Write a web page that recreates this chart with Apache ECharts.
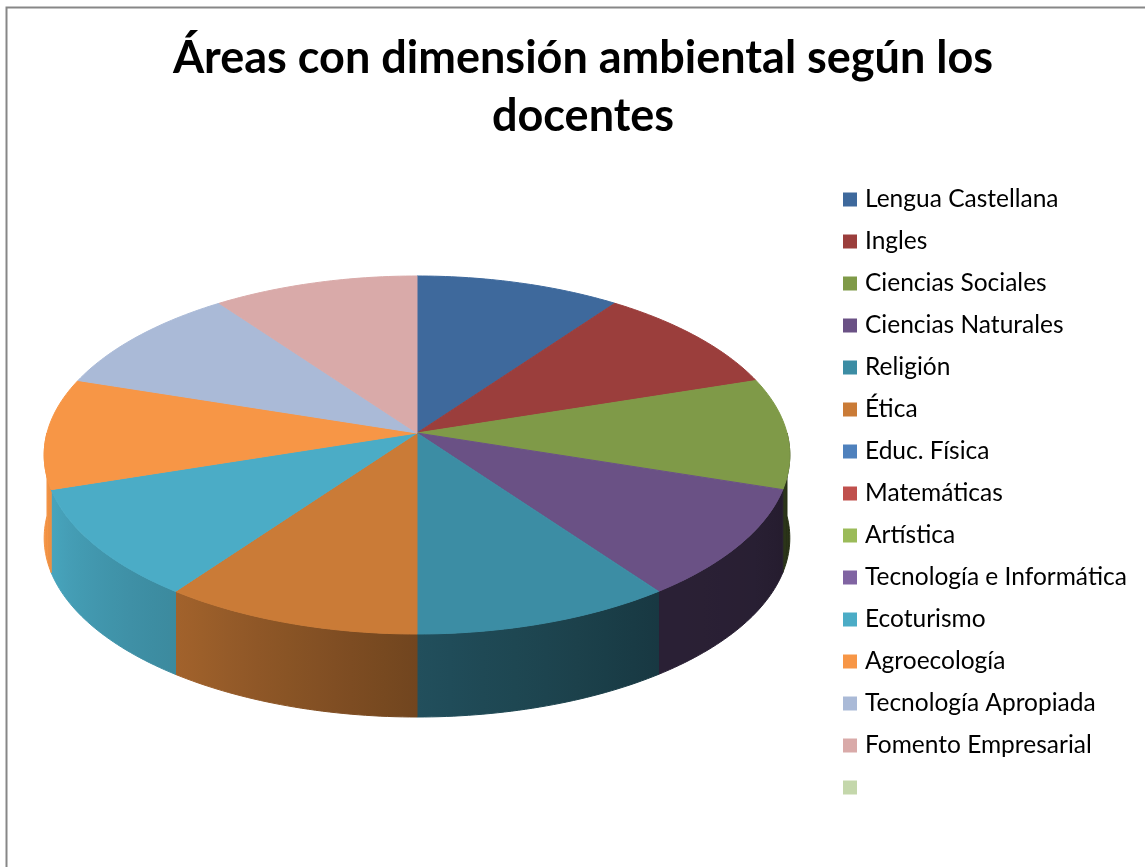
<!DOCTYPE html>
<html>
<head>
<meta charset="utf-8">
<title>Áreas con dimensión ambiental según los docentes</title>
<script src="https://cdn.jsdelivr.net/npm/echarts@6/dist/echarts.min.js"></script>
<style>
html,body{margin:0;padding:0;background:#fff;}
#main{width:1145px;height:867px;}
</style>
</head>
<body>
<div id="main"></div>
<script>
var areas = ['Lengua Castellana', 'Ingles', 'Ciencias Sociales', 'Ciencias Naturales', 'Religión', 'Ética',
    'Educ. Física', 'Matemáticas', 'Artística', 'Tecnología e Informática', 'Ecoturismo', 'Agroecología',
    'Tecnología Apropiada', 'Fomento Empresarial', '\u00a0'];
var docentes = [1, 1, 1, 1, 1, 1, 0, 0, 0, 0, 1, 1, 1, 1, 0];
var colores = ['#3e699c', '#9b3e3c', '#7f9a48', '#6a5185', '#3c8da4', '#ca7b37', '#4f81bd', '#c0504d',
    '#9bbb59', '#8064a2', '#4bacc6', '#f79646', '#aabad7', '#d9aaa9', '#c4d7ab'];

// pie layout (tilted disc seen in perspective)
var pie = {cx: 417, cy: 433, rx: 370, ry: 176.3, k: 0.1229, depth: 83};
// wall brightness by angle (degrees clockwise from top)
var luz = [[90, 0.3], [120, 0.38], [144, 0.4], [180, 0.56], [216, 0.8], [250, 0.95], [270, 1]];

function proj(t, dy) {
    var u = Math.sin(t), v = -Math.cos(t);
    var d = 1 - pie.k * v;
    return [pie.cx + pie.rx * u / d, pie.cy + pie.ry * v / d + (dy || 0)];
}
function brillo(t) {
    var g = t * 180 / Math.PI;
    if (g <= luz[0][0]) return luz[0][1];
    for (var i = 1; i < luz.length; i++) {
        if (g <= luz[i][0]) {
            var p = (g - luz[i - 1][0]) / (luz[i][0] - luz[i - 1][0]);
            return luz[i - 1][1] + p * (luz[i][1] - luz[i - 1][1]);
        }
    }
    return 1;
}
function sombra(hex, f) {
    var n = parseInt(hex.slice(1), 16);
    var r = Math.round(((n >> 16) & 255) * f), g = Math.round(((n >> 8) & 255) * f), b = Math.round((n & 255) * f);
    return 'rgb(' + r + ',' + g + ',' + b + ')';
}
function suma(arr) {
    return arr.reduce(function (a, b) { return a + b; }, 0);
}

function renderSlice(params, api) {
    var i = params.seriesIndex;
    var valor = api.value(0);
    if (!valor) return;
    var total = suma(docentes);
    var start = suma(docentes.slice(0, i)) / total * Math.PI * 2;
    var end = start + valor / total * Math.PI * 2;
    var color = colores[i];
    var n = Math.max(4, Math.ceil((end - start) * 180 / Math.PI));
    var tapa = [[pie.cx, pie.cy]];
    for (var s = 0; s <= n; s++) tapa.push(proj(start + (end - start) * s / n));
    var children = [{
        type: 'polygon',
        shape: {points: tapa},
        style: {fill: color, stroke: color, lineWidth: 1},
        z2: 2
    }];
    var w0 = Math.max(start, Math.PI / 2), w1 = Math.min(end, Math.PI * 3 / 2);
    if (w1 > w0) {
        var arriba = [], abajo = [];
        var m = Math.max(4, Math.ceil((w1 - w0) * 180 / Math.PI));
        for (var j = 0; j <= m; j++) {
            var t = w0 + (w1 - w0) * j / m;
            arriba.push(proj(t));
            abajo.push(proj(t, pie.depth));
        }
        var xs = arriba.map(function (p) { return p[0]; });
        var xL = Math.min.apply(null, xs), xR = Math.max.apply(null, xs);
        var stops = [];
        for (var q = 0; q <= 8; q++) {
            var tq = w0 + (w1 - w0) * q / 8;
            var off = (proj(tq)[0] - xL) / (xR - xL || 1);
            stops.push({offset: Math.min(1, Math.max(0, off)), color: sombra(color, brillo(tq))});
        }
        stops.sort(function (a, b) { return a.offset - b.offset; });
        var grad = new echarts.graphic.LinearGradient(xL, 0, xR, 0, stops, true);
        children.push({
            type: 'polygon',
            shape: {points: arriba.concat(abajo.reverse())},
            style: {fill: grad, stroke: grad, lineWidth: 1},
            z2: 1
        });
    }
    return {type: 'group', children: children};
}

var chart = echarts.init(document.getElementById('main'));
chart.setOption({
    animation: false,
    title: {
        text: 'Áreas con dimensión ambiental según los\ndocentes',
        left: 583,
        top: 29,
        padding: 0,
        textAlign: 'center',
        textStyle: {fontFamily: 'Lato', fontWeight: 'bold', fontSize: 45, lineHeight: 58, color: '#000'}
    },
    legend: {
        data: areas,
        orient: 'vertical',
        left: 843,
        top: 187,
        padding: 0,
        icon: 'rect',
        itemWidth: 14,
        itemHeight: 14,
        itemGap: 17,
        selectedMode: false,
        textStyle: {fontFamily: 'Lato', fontSize: 24.5, lineHeight: 24, color: '#000', padding: [0, 0, 0, 3]}
    },
    graphic: [{
        type: 'rect',
        shape: {x: 6.5, y: 7.5, width: 1300, height: 1000},
        style: {fill: null, stroke: '#878787', lineWidth: 2},
        silent: true,
        z: -1
    }],
    series: areas.map(function (name, i) {
        return {
            name: name,
            type: 'custom',
            coordinateSystem: 'none',
            renderItem: renderSlice,
            data: [[docentes[i]]],
            itemStyle: {color: colores[i]},
            silent: true
        };
    })
});
</script>
</body>
</html>
